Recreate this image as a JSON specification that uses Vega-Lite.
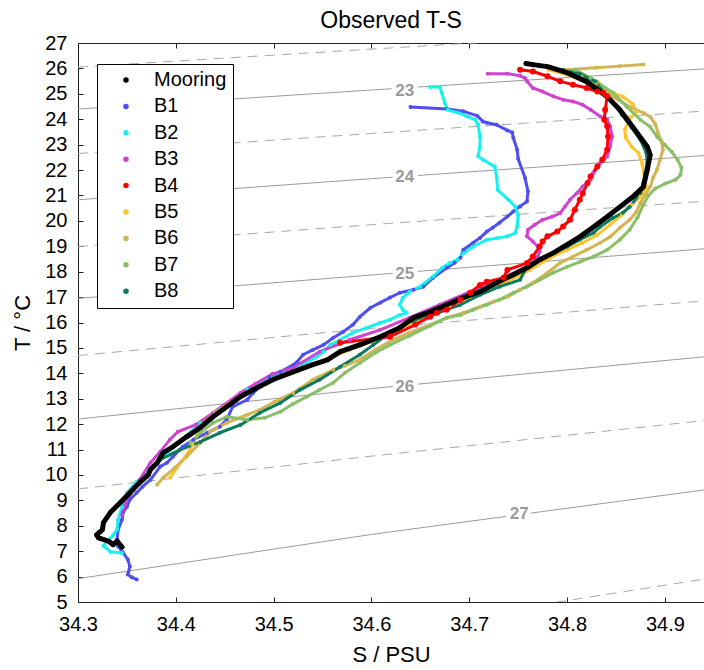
{
"$schema": "https://vega.github.io/schema/vega-lite/v6.json",
"width": 626, "height": 559,
"autosize": {"type": "none"},
"padding": {"left": 78, "top": 43, "right": 0, "bottom": 68},
"background": "white",
"title": {"text": "Observed T-S", "fontSize": 23, "font": "Liberation Sans", "fontWeight": "normal", "color": "black", "offset": 0, "anchor": "middle"},
"config": {
 "view": {"stroke": null},
 "axis": {"labelFont": "Liberation Sans", "titleFont": "Liberation Sans", "labelFontSize": 20, "titleFontSize": 22, "titleFontWeight": "normal", "labelColor": "black", "titleColor": "black", "domainColor": "#222", "tickColor": "#222", "grid": false, "labelOverlap": false, "labelFlush": false}
},
"resolve": {"axis": {"x": "independent", "y": "independent"}},
"datasets": {
 "iso": [
  {"sig":22.5,"S":34.3,"T":26.05},{"sig":22.5,"S":34.6,"T":26.76},{"sig":22.5,"S":34.94,"T":27.55},
  {"sig":23,"S":34.3,"T":24.40},{"sig":23,"S":34.6,"T":25.15},{"sig":23,"S":34.94,"T":25.98},
  {"sig":23.5,"S":34.3,"T":22.65},{"sig":23.5,"S":34.6,"T":23.44},{"sig":23.5,"S":34.94,"T":24.32},
  {"sig":24,"S":34.3,"T":20.83},{"sig":24,"S":34.6,"T":21.66},{"sig":24,"S":34.94,"T":22.57},
  {"sig":24.5,"S":34.3,"T":18.99},{"sig":24.5,"S":34.6,"T":19.85},{"sig":24.5,"S":34.94,"T":20.77},
  {"sig":25,"S":34.3,"T":16.95},{"sig":25,"S":34.6,"T":17.87},{"sig":25,"S":34.94,"T":18.90},
  {"sig":25.5,"S":34.3,"T":14.70},{"sig":25.5,"S":34.6,"T":15.77},{"sig":25.5,"S":34.94,"T":16.85},
  {"sig":26,"S":34.3,"T":12.20},{"sig":26,"S":34.6,"T":13.40},{"sig":26,"S":34.94,"T":14.65},
  {"sig":26.5,"S":34.3,"T":9.45},{"sig":26.5,"S":34.6,"T":10.74},{"sig":26.5,"S":34.94,"T":12.14},
  {"sig":27,"S":34.3,"T":5.92},{"sig":27,"S":34.6,"T":7.66},{"sig":27,"S":34.94,"T":9.41},
  {"sig":27.5,"S":34.6,"T":3.85},{"sig":27.5,"S":34.94,"T":5.90}
 ],
 "lab": [
  {"lab":"23","S":34.634,"T":25.13},{"lab":"24","S":34.634,"T":21.72},{"lab":"25","S":34.634,"T":17.91},{"lab":"26","S":34.634,"T":13.48},{"lab":"27","S":34.751,"T":8.47}
 ],
 "ts": [
  {"g":"B1","i":1,"S":34.640,"T":24.48},{"g":"B1","i":2,"S":34.677,"T":24.40},{"g":"B1","i":3,"S":34.694,"T":24.31},{"g":"B1","i":4,"S":34.708,"T":24.14},{"g":"B1","i":5,"S":34.714,"T":23.91},{"g":"B1","i":6,"S":34.718,"T":23.86},{"g":"B1","i":7,"S":34.728,"T":23.78},{"g":"B1","i":8,"S":34.739,"T":23.56},{"g":"B1","i":9,"S":34.744,"T":23.48},{"g":"B1","i":10,"S":34.745,"T":23.27},{"g":"B1","i":11,"S":34.749,"T":22.80},{"g":"B1","i":12,"S":34.750,"T":22.44},{"g":"B1","i":13,"S":34.757,"T":21.70},{"g":"B1","i":14,"S":34.760,"T":21.16},{"g":"B1","i":15,"S":34.759,"T":20.76},{"g":"B1","i":16,"S":34.752,"T":20.57},{"g":"B1","i":17,"S":34.745,"T":20.37},{"g":"B1","i":18,"S":34.739,"T":20.17},{"g":"B1","i":19,"S":34.731,"T":19.93},{"g":"B1","i":20,"S":34.724,"T":19.73},{"g":"B1","i":21,"S":34.718,"T":19.58},{"g":"B1","i":22,"S":34.711,"T":19.33},{"g":"B1","i":23,"S":34.704,"T":19.14},{"g":"B1","i":24,"S":34.694,"T":18.86},{"g":"B1","i":25,"S":34.691,"T":18.55},{"g":"B1","i":26,"S":34.685,"T":18.35},{"g":"B1","i":27,"S":34.677,"T":18.15},{"g":"B1","i":28,"S":34.663,"T":17.76},{"g":"B1","i":29,"S":34.653,"T":17.41},{"g":"B1","i":30,"S":34.643,"T":17.29},{"g":"B1","i":31,"S":34.629,"T":17.17},{"g":"B1","i":32,"S":34.619,"T":16.98},{"g":"B1","i":33,"S":34.609,"T":16.78},{"g":"B1","i":34,"S":34.599,"T":16.58},{"g":"B1","i":35,"S":34.588,"T":16.22},{"g":"B1","i":36,"S":34.581,"T":15.91},{"g":"B1","i":37,"S":34.571,"T":15.63},{"g":"B1","i":38,"S":34.561,"T":15.40},{"g":"B1","i":39,"S":34.551,"T":15.12},{"g":"B1","i":40,"S":34.540,"T":14.92},{"g":"B1","i":41,"S":34.530,"T":14.73},{"g":"B1","i":42,"S":34.524,"T":14.45},{"g":"B1","i":43,"S":34.520,"T":14.33},{"g":"B1","i":44,"S":34.507,"T":14.06},{"g":"B1","i":45,"S":34.496,"T":13.86},{"g":"B1","i":46,"S":34.486,"T":13.47},{"g":"B1","i":47,"S":34.479,"T":13.23},{"g":"B1","i":48,"S":34.473,"T":12.96},{"g":"B1","i":49,"S":34.458,"T":12.68},{"g":"B1","i":50,"S":34.452,"T":12.17},{"g":"B1","i":51,"S":34.445,"T":11.90},{"g":"B1","i":52,"S":34.432,"T":11.66},{"g":"B1","i":53,"S":34.418,"T":11.39},{"g":"B1","i":54,"S":34.407,"T":11.11},{"g":"B1","i":55,"S":34.397,"T":10.72},{"g":"B1","i":56,"S":34.391,"T":10.48},{"g":"B1","i":57,"S":34.384,"T":10.33},{"g":"B1","i":58,"S":34.374,"T":9.81},{"g":"B1","i":59,"S":34.366,"T":9.54},{"g":"B1","i":60,"S":34.360,"T":9.30},{"g":"B1","i":61,"S":34.353,"T":9.03},{"g":"B1","i":62,"S":34.350,"T":8.75},{"g":"B1","i":63,"S":34.346,"T":8.52},{"g":"B1","i":64,"S":34.345,"T":8.24},{"g":"B1","i":65,"S":34.341,"T":7.85},{"g":"B1","i":66,"S":34.340,"T":7.46},{"g":"B1","i":67,"S":34.341,"T":7.18},{"g":"B1","i":68,"S":34.346,"T":6.95},{"g":"B1","i":69,"S":34.351,"T":6.67},{"g":"B1","i":70,"S":34.353,"T":6.40},{"g":"B1","i":71,"S":34.351,"T":6.08},{"g":"B1","i":72,"S":34.355,"T":5.97},{"g":"B1","i":73,"S":34.360,"T":5.89},
  {"g":"B2","i":1,"S":34.660,"T":25.27},{"g":"B2","i":2,"S":34.670,"T":25.27},{"g":"B2","i":3,"S":34.672,"T":25.03},{"g":"B2","i":4,"S":34.675,"T":24.64},{"g":"B2","i":5,"S":34.678,"T":24.37},{"g":"B2","i":6,"S":34.688,"T":24.26},{"g":"B2","i":7,"S":34.698,"T":24.11},{"g":"B2","i":8,"S":34.706,"T":23.98},{"g":"B2","i":9,"S":34.709,"T":23.79},{"g":"B2","i":10,"S":34.711,"T":23.32},{"g":"B2","i":11,"S":34.711,"T":22.93},{"g":"B2","i":12,"S":34.709,"T":22.54},{"g":"B2","i":13,"S":34.714,"T":22.41},{"g":"B2","i":14,"S":34.726,"T":22.14},{"g":"B2","i":15,"S":34.728,"T":21.75},{"g":"B2","i":16,"S":34.729,"T":21.22},{"g":"B2","i":17,"S":34.740,"T":20.83},{"g":"B2","i":18,"S":34.747,"T":20.57},{"g":"B2","i":19,"S":34.750,"T":20.24},{"g":"B2","i":20,"S":34.749,"T":19.78},{"g":"B2","i":21,"S":34.747,"T":19.52},{"g":"B2","i":22,"S":34.739,"T":19.39},{"g":"B2","i":23,"S":34.728,"T":19.32},{"g":"B2","i":24,"S":34.718,"T":19.26},{"g":"B2","i":25,"S":34.704,"T":18.99},{"g":"B2","i":26,"S":34.694,"T":18.73},{"g":"B2","i":27,"S":34.688,"T":18.47},{"g":"B2","i":28,"S":34.680,"T":18.34},{"g":"B2","i":29,"S":34.672,"T":18.14},{"g":"B2","i":30,"S":34.663,"T":17.81},{"g":"B2","i":31,"S":34.650,"T":17.42},{"g":"B2","i":32,"S":34.639,"T":17.21},{"g":"B2","i":33,"S":34.632,"T":16.97},{"g":"B2","i":34,"S":34.629,"T":16.70},{"g":"B2","i":35,"S":34.632,"T":16.50},{"g":"B2","i":36,"S":34.636,"T":16.38},{"g":"B2","i":37,"S":34.629,"T":16.30},{"g":"B2","i":38,"S":34.619,"T":16.11},{"g":"B2","i":39,"S":34.609,"T":15.99},{"g":"B2","i":40,"S":34.595,"T":15.79},{"g":"B2","i":41,"S":34.581,"T":15.60},{"g":"B2","i":42,"S":34.568,"T":15.32},{"g":"B2","i":43,"S":34.558,"T":15.12},{"g":"B2","i":44,"S":34.551,"T":14.85},{"g":"B2","i":45,"S":34.544,"T":14.65},{"g":"B2","i":46,"S":34.527,"T":14.26},{"g":"B2","i":47,"S":34.499,"T":13.83},{"g":"B2","i":48,"S":34.473,"T":13.35},{"g":"B2","i":49,"S":34.445,"T":12.56},{"g":"B2","i":50,"S":34.425,"T":12.05},{"g":"B2","i":51,"S":34.404,"T":11.30},{"g":"B2","i":52,"S":34.391,"T":10.87},{"g":"B2","i":53,"S":34.384,"T":10.60},{"g":"B2","i":54,"S":34.371,"T":10.09},{"g":"B2","i":55,"S":34.360,"T":9.73},{"g":"B2","i":56,"S":34.350,"T":9.30},{"g":"B2","i":57,"S":34.345,"T":8.75},{"g":"B2","i":58,"S":34.341,"T":8.24},{"g":"B2","i":59,"S":34.340,"T":7.85},{"g":"B2","i":60,"S":34.336,"T":7.64},{"g":"B2","i":61,"S":34.326,"T":7.21},{"g":"B2","i":62,"S":34.333,"T":6.98},{"g":"B2","i":63,"S":34.345,"T":6.93},
  {"g":"B3","i":1,"S":34.719,"T":25.79},{"g":"B3","i":2,"S":34.739,"T":25.79},{"g":"B3","i":3,"S":34.752,"T":25.71},{"g":"B3","i":4,"S":34.757,"T":25.62},{"g":"B3","i":5,"S":34.759,"T":25.49},{"g":"B3","i":6,"S":34.765,"T":25.23},{"g":"B3","i":7,"S":34.775,"T":25.09},{"g":"B3","i":8,"S":34.786,"T":24.90},{"g":"B3","i":9,"S":34.796,"T":24.77},{"g":"B3","i":10,"S":34.806,"T":24.70},{"g":"B3","i":11,"S":34.816,"T":24.57},{"g":"B3","i":12,"S":34.824,"T":24.37},{"g":"B3","i":13,"S":34.834,"T":24.11},{"g":"B3","i":14,"S":34.841,"T":23.98},{"g":"B3","i":15,"S":34.844,"T":23.72},{"g":"B3","i":16,"S":34.846,"T":23.32},{"g":"B3","i":17,"S":34.844,"T":22.93},{"g":"B3","i":18,"S":34.841,"T":22.54},{"g":"B3","i":19,"S":34.834,"T":22.28},{"g":"B3","i":20,"S":34.827,"T":21.88},{"g":"B3","i":21,"S":34.824,"T":21.62},{"g":"B3","i":22,"S":34.816,"T":21.35},{"g":"B3","i":23,"S":34.810,"T":21.09},{"g":"B3","i":24,"S":34.803,"T":20.83},{"g":"B3","i":25,"S":34.798,"T":20.57},{"g":"B3","i":26,"S":34.793,"T":20.30},{"g":"B3","i":27,"S":34.785,"T":20.17},{"g":"B3","i":28,"S":34.775,"T":20.04},{"g":"B3","i":29,"S":34.767,"T":19.85},{"g":"B3","i":30,"S":34.760,"T":19.65},{"g":"B3","i":31,"S":34.759,"T":19.39},{"g":"B3","i":32,"S":34.765,"T":19.19},{"g":"B3","i":33,"S":34.770,"T":18.99},{"g":"B3","i":34,"S":34.772,"T":18.80},{"g":"B3","i":35,"S":34.770,"T":18.60},{"g":"B3","i":36,"S":34.760,"T":18.23},{"g":"B3","i":37,"S":34.731,"T":17.68},{"g":"B3","i":38,"S":34.701,"T":17.21},{"g":"B3","i":39,"S":34.670,"T":16.70},{"g":"B3","i":40,"S":34.639,"T":16.19},{"g":"B3","i":41,"S":34.609,"T":15.71},{"g":"B3","i":42,"S":34.578,"T":15.32},{"g":"B3","i":43,"S":34.547,"T":14.85},{"g":"B3","i":44,"S":34.520,"T":14.22},{"g":"B3","i":45,"S":34.499,"T":13.98},{"g":"B3","i":46,"S":34.481,"T":13.58},{"g":"B3","i":47,"S":34.466,"T":13.23},{"g":"B3","i":48,"S":34.438,"T":12.44},{"g":"B3","i":49,"S":34.420,"T":11.97},{"g":"B3","i":50,"S":34.402,"T":11.70},{"g":"B3","i":51,"S":34.394,"T":11.39},{"g":"B3","i":52,"S":34.384,"T":10.91},{"g":"B3","i":53,"S":34.374,"T":10.48},{"g":"B3","i":54,"S":34.363,"T":9.81},{"g":"B3","i":55,"S":34.353,"T":9.22},{"g":"B3","i":56,"S":34.348,"T":8.83},{"g":"B3","i":57,"S":34.345,"T":8.43},
  {"g":"B5","i":1,"S":34.781,"T":25.95},{"g":"B5","i":2,"S":34.803,"T":25.71},{"g":"B5","i":3,"S":34.829,"T":25.40},{"g":"B5","i":4,"S":34.847,"T":25.04},{"g":"B5","i":5,"S":34.857,"T":24.89},{"g":"B5","i":6,"S":34.867,"T":24.61},{"g":"B5","i":7,"S":34.871,"T":24.30},{"g":"B5","i":8,"S":34.864,"T":24.02},{"g":"B5","i":9,"S":34.859,"T":23.59},{"g":"B5","i":10,"S":34.860,"T":23.27},{"g":"B5","i":11,"S":34.866,"T":22.92},{"g":"B5","i":12,"S":34.873,"T":22.68},{"g":"B5","i":13,"S":34.877,"T":22.21},{"g":"B5","i":14,"S":34.879,"T":21.70},{"g":"B5","i":15,"S":34.881,"T":21.30},{"g":"B5","i":16,"S":34.875,"T":20.95},{"g":"B5","i":17,"S":34.866,"T":20.63},{"g":"B5","i":18,"S":34.856,"T":20.24},{"g":"B5","i":19,"S":34.844,"T":19.85},{"g":"B5","i":20,"S":34.831,"T":19.45},{"g":"B5","i":21,"S":34.816,"T":19.14},{"g":"B5","i":22,"S":34.800,"T":18.86},{"g":"B5","i":23,"S":34.783,"T":18.55},{"g":"B5","i":24,"S":34.762,"T":18.07},{"g":"B5","i":25,"S":34.742,"T":17.68},{"g":"B5","i":26,"S":34.721,"T":17.37},{"g":"B5","i":27,"S":34.701,"T":17.01},{"g":"B5","i":28,"S":34.680,"T":16.66},{"g":"B5","i":29,"S":34.660,"T":16.30},{"g":"B5","i":30,"S":34.639,"T":15.95},{"g":"B5","i":31,"S":34.619,"T":15.60},{"g":"B5","i":32,"S":34.599,"T":15.24},{"g":"B5","i":33,"S":34.578,"T":14.93},{"g":"B5","i":34,"S":34.558,"T":14.61},{"g":"B5","i":35,"S":34.537,"T":14.30},{"g":"B5","i":36,"S":34.517,"T":14.02},{"g":"B5","i":37,"S":34.496,"T":13.67},{"g":"B5","i":38,"S":34.476,"T":13.27},{"g":"B5","i":39,"S":34.455,"T":12.84},{"g":"B5","i":40,"S":34.440,"T":12.44},{"g":"B5","i":41,"S":34.430,"T":12.09},{"g":"B5","i":42,"S":34.423,"T":11.70},{"g":"B5","i":43,"S":34.417,"T":11.19},{"g":"B5","i":44,"S":34.409,"T":10.68},{"g":"B5","i":45,"S":34.401,"T":10.28},{"g":"B5","i":46,"S":34.394,"T":9.89},
  {"g":"B6","i":1,"S":34.878,"T":26.15},{"g":"B6","i":2,"S":34.854,"T":26.09},{"g":"B6","i":3,"S":34.829,"T":26.03},{"g":"B6","i":4,"S":34.800,"T":25.95},{"g":"B6","i":5,"S":34.815,"T":25.67},{"g":"B6","i":6,"S":34.831,"T":25.48},{"g":"B6","i":7,"S":34.847,"T":24.89},{"g":"B6","i":8,"S":34.864,"T":24.49},{"g":"B6","i":9,"S":34.878,"T":24.25},{"g":"B6","i":10,"S":34.885,"T":24.10},{"g":"B6","i":11,"S":34.890,"T":23.82},{"g":"B6","i":12,"S":34.893,"T":23.47},{"g":"B6","i":13,"S":34.897,"T":23.07},{"g":"B6","i":14,"S":34.898,"T":22.80},{"g":"B6","i":15,"S":34.895,"T":22.41},{"g":"B6","i":16,"S":34.892,"T":22.01},{"g":"B6","i":17,"S":34.888,"T":21.70},{"g":"B6","i":18,"S":34.885,"T":21.34},{"g":"B6","i":19,"S":34.880,"T":21.03},{"g":"B6","i":20,"S":34.875,"T":20.71},{"g":"B6","i":21,"S":34.871,"T":20.36},{"g":"B6","i":22,"S":34.864,"T":20.04},{"g":"B6","i":23,"S":34.854,"T":19.73},{"g":"B6","i":24,"S":34.844,"T":19.37},{"g":"B6","i":25,"S":34.834,"T":19.14},{"g":"B6","i":26,"S":34.820,"T":18.86},{"g":"B6","i":27,"S":34.806,"T":18.59},{"g":"B6","i":28,"S":34.793,"T":18.35},{"g":"B6","i":29,"S":34.780,"T":17.96},{"g":"B6","i":30,"S":34.765,"T":17.56},{"g":"B6","i":31,"S":34.752,"T":17.29},{"g":"B6","i":32,"S":34.739,"T":17.01},{"g":"B6","i":33,"S":34.724,"T":16.81},{"g":"B6","i":34,"S":34.711,"T":16.62},{"g":"B6","i":35,"S":34.694,"T":16.38},{"g":"B6","i":36,"S":34.677,"T":16.19},{"g":"B6","i":37,"S":34.660,"T":15.91},{"g":"B6","i":38,"S":34.639,"T":15.60},{"g":"B6","i":39,"S":34.622,"T":15.32},{"g":"B6","i":40,"S":34.604,"T":14.93},{"g":"B6","i":41,"S":34.588,"T":14.53},{"g":"B6","i":42,"S":34.573,"T":14.30},{"g":"B6","i":43,"S":34.561,"T":14.14},{"g":"B6","i":44,"S":34.540,"T":13.75},{"g":"B6","i":45,"S":34.520,"T":13.23},{"g":"B6","i":46,"S":34.501,"T":12.88},{"g":"B6","i":47,"S":34.486,"T":12.56},{"g":"B6","i":48,"S":34.473,"T":12.37},{"g":"B6","i":49,"S":34.452,"T":12.05},{"g":"B6","i":50,"S":34.435,"T":11.70},{"g":"B6","i":51,"S":34.425,"T":11.27},{"g":"B6","i":52,"S":34.411,"T":10.72},{"g":"B6","i":53,"S":34.399,"T":10.28},{"g":"B6","i":54,"S":34.387,"T":9.89},{"g":"B6","i":55,"S":34.381,"T":9.62},
  {"g":"B7","i":1,"S":34.808,"T":25.95},{"g":"B7","i":2,"S":34.824,"T":25.63},{"g":"B7","i":3,"S":34.839,"T":25.24},{"g":"B7","i":4,"S":34.847,"T":25.04},{"g":"B7","i":5,"S":34.861,"T":24.49},{"g":"B7","i":6,"S":34.875,"T":23.98},{"g":"B7","i":7,"S":34.885,"T":23.70},{"g":"B7","i":8,"S":34.892,"T":23.31},{"g":"B7","i":9,"S":34.900,"T":22.99},{"g":"B7","i":10,"S":34.907,"T":22.72},{"g":"B7","i":11,"S":34.913,"T":22.40},{"g":"B7","i":12,"S":34.917,"T":22.09},{"g":"B7","i":13,"S":34.916,"T":21.81},{"g":"B7","i":14,"S":34.911,"T":21.62},{"g":"B7","i":15,"S":34.900,"T":21.46},{"g":"B7","i":16,"S":34.890,"T":21.27},{"g":"B7","i":17,"S":34.883,"T":20.99},{"g":"B7","i":18,"S":34.878,"T":20.64},{"g":"B7","i":19,"S":34.872,"T":20.13},{"g":"B7","i":20,"S":34.864,"T":19.65},{"g":"B7","i":21,"S":34.854,"T":19.26},{"g":"B7","i":22,"S":34.841,"T":18.86},{"g":"B7","i":23,"S":34.827,"T":18.59},{"g":"B7","i":24,"S":34.813,"T":18.39},{"g":"B7","i":25,"S":34.800,"T":18.19},{"g":"B7","i":26,"S":34.786,"T":17.96},{"g":"B7","i":27,"S":34.772,"T":17.68},{"g":"B7","i":28,"S":34.759,"T":17.41},{"g":"B7","i":29,"S":34.745,"T":17.17},{"g":"B7","i":30,"S":34.731,"T":16.90},{"g":"B7","i":31,"S":34.718,"T":16.70},{"g":"B7","i":32,"S":34.704,"T":16.50},{"g":"B7","i":33,"S":34.691,"T":16.30},{"g":"B7","i":34,"S":34.677,"T":16.19},{"g":"B7","i":35,"S":34.660,"T":15.87},{"g":"B7","i":36,"S":34.639,"T":15.48},{"g":"B7","i":37,"S":34.619,"T":15.12},{"g":"B7","i":38,"S":34.604,"T":14.81},{"g":"B7","i":39,"S":34.588,"T":14.41},{"g":"B7","i":40,"S":34.573,"T":14.02},{"g":"B7","i":41,"S":34.561,"T":13.63},{"g":"B7","i":42,"S":34.547,"T":13.35},{"g":"B7","i":43,"S":34.534,"T":13.08},{"g":"B7","i":44,"S":34.520,"T":12.80},{"g":"B7","i":45,"S":34.507,"T":12.49},{"g":"B7","i":46,"S":34.491,"T":12.25},{"g":"B7","i":47,"S":34.473,"T":12.17},{"g":"B7","i":48,"S":34.452,"T":12.29},{"g":"B7","i":49,"S":34.438,"T":12.05},{"g":"B7","i":50,"S":34.425,"T":11.66},{"g":"B7","i":51,"S":34.415,"T":11.27},
  {"g":"B8","i":1,"S":34.796,"T":25.95},{"g":"B8","i":2,"S":34.813,"T":25.79},{"g":"B8","i":3,"S":34.829,"T":25.48},{"g":"B8","i":4,"S":34.837,"T":25.08},{"g":"B8","i":5,"S":34.846,"T":24.69},{"g":"B8","i":6,"S":34.856,"T":24.18},{"g":"B8","i":7,"S":34.866,"T":23.67},{"g":"B8","i":8,"S":34.875,"T":23.19},{"g":"B8","i":9,"S":34.881,"T":22.68},{"g":"B8","i":10,"S":34.882,"T":22.29},{"g":"B8","i":11,"S":34.880,"T":21.89},{"g":"B8","i":12,"S":34.878,"T":21.50},{"g":"B8","i":13,"S":34.875,"T":21.10},{"g":"B8","i":14,"S":34.864,"T":20.55},{"g":"B8","i":15,"S":34.857,"T":20.32},{"g":"B8","i":16,"S":34.847,"T":20.12},{"g":"B8","i":17,"S":34.834,"T":19.77},{"g":"B8","i":18,"S":34.827,"T":19.53},{"g":"B8","i":19,"S":34.813,"T":19.26},{"g":"B8","i":20,"S":34.800,"T":18.98},{"g":"B8","i":21,"S":34.786,"T":18.74},{"g":"B8","i":22,"S":34.772,"T":18.47},{"g":"B8","i":23,"S":34.759,"T":18.19},{"g":"B8","i":24,"S":34.752,"T":17.68},{"g":"B8","i":25,"S":34.731,"T":17.41},{"g":"B8","i":26,"S":34.711,"T":17.09},{"g":"B8","i":27,"S":34.691,"T":16.70},{"g":"B8","i":28,"S":34.670,"T":16.42},{"g":"B8","i":29,"S":34.650,"T":16.19},{"g":"B8","i":30,"S":34.629,"T":15.83},{"g":"B8","i":31,"S":34.616,"T":15.52},{"g":"B8","i":32,"S":34.602,"T":15.12},{"g":"B8","i":33,"S":34.588,"T":14.73},{"g":"B8","i":34,"S":34.568,"T":14.26},{"g":"B8","i":35,"S":34.547,"T":13.75},{"g":"B8","i":36,"S":34.527,"T":13.35},{"g":"B8","i":37,"S":34.507,"T":12.84},{"g":"B8","i":38,"S":34.486,"T":12.45},{"g":"B8","i":39,"S":34.466,"T":11.97},{"g":"B8","i":40,"S":34.445,"T":11.66},{"g":"B8","i":41,"S":34.425,"T":11.30},{"g":"B8","i":42,"S":34.404,"T":10.99},{"g":"B8","i":43,"S":34.384,"T":10.60},{"g":"B8","i":44,"S":34.377,"T":10.33},
  {"g":"Mooring","i":1,"S":34.758,"T":26.19},{"g":"Mooring","i":2,"S":34.765,"T":26.15},{"g":"Mooring","i":3,"S":34.780,"T":26.07},{"g":"Mooring","i":4,"S":34.800,"T":25.83},{"g":"Mooring","i":5,"S":34.820,"T":25.48},{"g":"Mooring","i":6,"S":34.841,"T":24.89},{"g":"Mooring","i":7,"S":34.854,"T":24.37},{"g":"Mooring","i":8,"S":34.867,"T":23.70},{"g":"Mooring","i":9,"S":34.882,"T":22.92},{"g":"Mooring","i":10,"S":34.885,"T":22.60},{"g":"Mooring","i":11,"S":34.882,"T":22.01},{"g":"Mooring","i":12,"S":34.878,"T":21.34},{"g":"Mooring","i":13,"S":34.867,"T":20.94},{"g":"Mooring","i":14,"S":34.854,"T":20.55},{"g":"Mooring","i":15,"S":34.841,"T":20.16},{"g":"Mooring","i":16,"S":34.827,"T":19.76},{"g":"Mooring","i":17,"S":34.813,"T":19.37},{"g":"Mooring","i":18,"S":34.800,"T":19.06},{"g":"Mooring","i":19,"S":34.786,"T":18.74},{"g":"Mooring","i":20,"S":34.772,"T":18.47},{"g":"Mooring","i":21,"S":34.759,"T":18.15},{"g":"Mooring","i":22,"S":34.745,"T":17.88},{"g":"Mooring","i":23,"S":34.728,"T":17.56},{"g":"Mooring","i":24,"S":34.711,"T":17.21},{"g":"Mooring","i":25,"S":34.694,"T":16.98},{"g":"Mooring","i":26,"S":34.677,"T":16.70},{"g":"Mooring","i":27,"S":34.660,"T":16.42},{"g":"Mooring","i":28,"S":34.643,"T":16.19},{"g":"Mooring","i":29,"S":34.629,"T":15.79},{"g":"Mooring","i":30,"S":34.609,"T":15.44},{"g":"Mooring","i":31,"S":34.588,"T":15.12},{"g":"Mooring","i":32,"S":34.568,"T":14.85},{"g":"Mooring","i":33,"S":34.555,"T":14.53},{"g":"Mooring","i":34,"S":34.540,"T":14.34},{"g":"Mooring","i":35,"S":34.520,"T":14.06},{"g":"Mooring","i":36,"S":34.499,"T":13.75},{"g":"Mooring","i":37,"S":34.479,"T":13.35},{"g":"Mooring","i":38,"S":34.466,"T":13.08},{"g":"Mooring","i":39,"S":34.452,"T":12.68},{"g":"Mooring","i":40,"S":34.438,"T":12.29},{"g":"Mooring","i":41,"S":34.425,"T":11.86},{"g":"Mooring","i":42,"S":34.411,"T":11.50},{"g":"Mooring","i":43,"S":34.397,"T":11.11},{"g":"Mooring","i":44,"S":34.387,"T":10.87},{"g":"Mooring","i":45,"S":34.381,"T":10.48},{"g":"Mooring","i":46,"S":34.374,"T":10.21},{"g":"Mooring","i":47,"S":34.372,"T":10.01},{"g":"Mooring","i":48,"S":34.363,"T":9.70},{"g":"Mooring","i":49,"S":34.353,"T":9.30},{"g":"Mooring","i":50,"S":34.343,"T":8.91},{"g":"Mooring","i":51,"S":34.333,"T":8.52},{"g":"Mooring","i":52,"S":34.326,"T":8.12},{"g":"Mooring","i":53,"S":34.325,"T":7.85},{"g":"Mooring","i":54,"S":34.319,"T":7.64},{"g":"Mooring","i":55,"S":34.321,"T":7.52},{"g":"Mooring","i":56,"S":34.331,"T":7.40},{"g":"Mooring","i":57,"S":34.336,"T":7.25},{"g":"Mooring","i":58,"S":34.340,"T":7.40},{"g":"Mooring","i":59,"S":34.345,"T":7.16},
  {"g":"B4","i":1,"S":34.752,"T":25.95},{"g":"B4","i":2,"S":34.765,"T":25.88},{"g":"B4","i":3,"S":34.780,"T":25.69},{"g":"B4","i":4,"S":34.793,"T":25.49},{"g":"B4","i":5,"S":34.806,"T":25.36},{"g":"B4","i":6,"S":34.820,"T":25.23},{"g":"B4","i":7,"S":34.831,"T":25.09},{"g":"B4","i":8,"S":34.837,"T":25.03},{"g":"B4","i":9,"S":34.841,"T":24.90},{"g":"B4","i":10,"S":34.839,"T":24.37},{"g":"B4","i":11,"S":34.838,"T":23.98},{"g":"B4","i":12,"S":34.841,"T":23.72},{"g":"B4","i":13,"S":34.842,"T":23.32},{"g":"B4","i":14,"S":34.841,"T":22.80},{"g":"B4","i":15,"S":34.836,"T":22.41},{"g":"B4","i":16,"S":34.831,"T":22.14},{"g":"B4","i":17,"S":34.824,"T":21.75},{"g":"B4","i":18,"S":34.821,"T":21.49},{"g":"B4","i":19,"S":34.816,"T":21.09},{"g":"B4","i":20,"S":34.813,"T":20.83},{"g":"B4","i":21,"S":34.808,"T":20.44},{"g":"B4","i":22,"S":34.803,"T":20.04},{"g":"B4","i":23,"S":34.796,"T":19.78},{"g":"B4","i":24,"S":34.790,"T":19.58},{"g":"B4","i":25,"S":34.780,"T":19.39},{"g":"B4","i":26,"S":34.775,"T":19.19},{"g":"B4","i":27,"S":34.772,"T":18.99},{"g":"B4","i":28,"S":34.765,"T":18.60},{"g":"B4","i":29,"S":34.759,"T":18.34},{"g":"B4","i":30,"S":34.739,"T":18.07},{"g":"B4","i":31,"S":34.735,"T":17.76},{"g":"B4","i":32,"S":34.718,"T":17.60},{"g":"B4","i":33,"S":34.711,"T":17.48},{"g":"B4","i":34,"S":34.701,"T":17.17},{"g":"B4","i":35,"S":34.691,"T":16.90},{"g":"B4","i":36,"S":34.677,"T":16.50},{"g":"B4","i":37,"S":34.667,"T":16.38},{"g":"B4","i":38,"S":34.660,"T":16.23},{"g":"B4","i":39,"S":34.645,"T":15.92},{"g":"B4","i":40,"S":34.619,"T":15.44},{"g":"B4","i":41,"S":34.568,"T":15.20}
 ]
},
"layer": [
 {"data": {"name": "iso"}, "transform": [{"filter": "datum.sig % 1 === 0"}],
  "mark": {"type": "line", "color": "#9a9a9a", "strokeWidth": 1, "clip": true},
  "encoding": {
   "x": {"field": "S", "type": "quantitative", "scale": {"domain": [34.3, 34.94], "nice": false, "zero": false},
    "axis": {"orient": "bottom", "values": [34.3, 34.4, 34.5, 34.6, 34.7, 34.8, 34.9], "format": ".1f", "title": "S / PSU", "tickSize": -5, "labelPadding": 17, "titlePadding": 10}},
   "y": {"field": "T", "type": "quantitative", "scale": {"domain": [5, 27], "nice": false, "zero": false},
    "axis": {"orient": "left", "values": [5,6,7,8,9,10,11,12,13,14,15,16,17,18,19,20,21,22,23,24,25,26,27], "format": "d", "title": "T / °C", "tickSize": -5, "labelPadding": 16, "titlePadding": 10}},
   "detail": {"field": "sig"}
  }},
 {"data": {"name": "iso"}, "transform": [{"filter": "datum.sig % 1 !== 0"}],
  "mark": {"type": "line", "color": "#a8a8a8", "strokeWidth": 1, "strokeDash": [10, 7], "clip": true},
  "encoding": {
   "x": {"field": "S", "type": "quantitative", "scale": {"domain": [34.3, 34.94], "nice": false, "zero": false},
    "axis": {"orient": "top", "values": [34.3, 34.4, 34.5, 34.6, 34.7, 34.8, 34.9], "labels": false, "title": null, "tickSize": -5}},
   "y": {"field": "T", "type": "quantitative", "scale": {"domain": [5, 27], "nice": false, "zero": false}, "axis": null},
   "detail": {"field": "sig"}
  }},
 {"data": {"name": "lab"},
  "mark": {"type": "text", "font": "Liberation Sans", "fontSize": 17, "fontWeight": "bold", "fill": "white", "stroke": "white", "strokeWidth": 9, "strokeJoin": "round", "align": "center", "baseline": "middle"},
  "encoding": {
   "x": {"field": "S", "type": "quantitative", "scale": {"domain": [34.3, 34.94], "nice": false, "zero": false}, "axis": null},
   "y": {"field": "T", "type": "quantitative", "scale": {"domain": [5, 27], "nice": false, "zero": false}, "axis": null},
   "text": {"field": "lab"}
  }},
 {"data": {"name": "lab"},
  "mark": {"type": "text", "font": "Liberation Sans", "fontSize": 17, "fontWeight": "bold", "color": "#9a9a9a", "align": "center", "baseline": "middle"},
  "encoding": {
   "x": {"field": "S", "type": "quantitative", "scale": {"domain": [34.3, 34.94], "nice": false, "zero": false}, "axis": null},
   "y": {"field": "T", "type": "quantitative", "scale": {"domain": [5, 27], "nice": false, "zero": false}, "axis": null},
   "text": {"field": "lab"}
  }},
 {"data": {"name": "ts"}, "transform": [{"filter": "datum.g !== 'Mooring'"}],
  "mark": {"type": "line", "strokeWidth": 3, "strokeCap": "round", "strokeJoin": "round", "clip": true},
  "encoding": {
   "x": {"field": "S", "type": "quantitative", "scale": {"domain": [34.3, 34.94], "nice": false, "zero": false}, "axis": null},
   "y": {"field": "T", "type": "quantitative", "scale": {"domain": [5, 27], "nice": false, "zero": false}, "axis": null},
   "stroke": {"field": "g", "type": "nominal", "scale": {"domain": ["B1","B2","B3","B4","B5","B6","B7","B8"], "range": ["#4f4ff0","#19f0f0","#d043d0","#ff0000","#fec430","#d2b453","#88c068","#0c7a5c"]}, "legend": null},
   "order": {"field": "i", "type": "quantitative"}
  }},
 {"data": {"name": "ts"}, "transform": [{"filter": "datum.g !== 'Mooring' && datum.g !== 'B4'"}],
  "mark": {"type": "point", "filled": true, "opacity": 1, "size": 16, "strokeWidth": 0, "clip": true},
  "encoding": {
   "x": {"field": "S", "type": "quantitative", "scale": {"domain": [34.3, 34.94], "nice": false, "zero": false}, "axis": null},
   "y": {"field": "T", "type": "quantitative", "scale": {"domain": [5, 27], "nice": false, "zero": false}, "axis": null},
   "color": {"field": "g", "type": "nominal", "scale": {"domain": ["Mooring","B1","B2","B3","B4","B5","B6","B7","B8"], "range": ["#000000","#4f4ff0","#19f0f0","#d043d0","#ff0000","#fec430","#d2b453","#88c068","#0c7a5c"]},
    "legend": {"orient": "none", "legendX": 19, "legendY": 21, "title": null, "strokeColor": "black", "fillColor": "white", "padding": 6, "labelFont": "Liberation Sans", "labelFontSize": 20, "labelColor": "black", "symbolType": "circle", "symbolSize": 30, "symbolOffset": 13, "labelOffset": 18, "rowPadding": 6.4, "symbolStrokeWidth": 0}}
  }},
 {"data": {"name": "ts"}, "transform": [{"filter": "datum.g === 'Mooring'"}],
  "mark": {"type": "line", "color": "black", "strokeWidth": 5, "strokeCap": "round", "strokeJoin": "round", "clip": true},
  "encoding": {
   "x": {"field": "S", "type": "quantitative", "scale": {"domain": [34.3, 34.94], "nice": false, "zero": false}, "axis": null},
   "y": {"field": "T", "type": "quantitative", "scale": {"domain": [5, 27], "nice": false, "zero": false}, "axis": null},
   "order": {"field": "i", "type": "quantitative"}
  }},
 {"data": {"name": "ts"}, "transform": [{"filter": "datum.g === 'B4' || datum.g === 'Mooring'"}],
  "mark": {"type": "point", "filled": true, "opacity": 1, "strokeWidth": 0, "clip": true},
  "encoding": {
   "x": {"field": "S", "type": "quantitative", "scale": {"domain": [34.3, 34.94], "nice": false, "zero": false}, "axis": null},
   "y": {"field": "T", "type": "quantitative", "scale": {"domain": [5, 27], "nice": false, "zero": false}, "axis": null},
   "size": {"condition": {"test": "datum.g === 'B4'", "value": 36}, "value": 20},
   "color": {"field": "g", "type": "nominal", "scale": {"domain": ["Mooring","B1","B2","B3","B4","B5","B6","B7","B8"], "range": ["#000000","#4f4ff0","#19f0f0","#d043d0","#ff0000","#fec430","#d2b453","#88c068","#0c7a5c"]},
    "legend": {"orient": "none", "legendX": 19, "legendY": 21, "title": null, "strokeColor": "black", "fillColor": "white", "padding": 6, "labelFont": "Liberation Sans", "labelFontSize": 20, "labelColor": "black", "symbolType": "circle", "symbolSize": 30, "symbolOffset": 13, "labelOffset": 18, "rowPadding": 6.4, "symbolStrokeWidth": 0}}
  }}
]
}
